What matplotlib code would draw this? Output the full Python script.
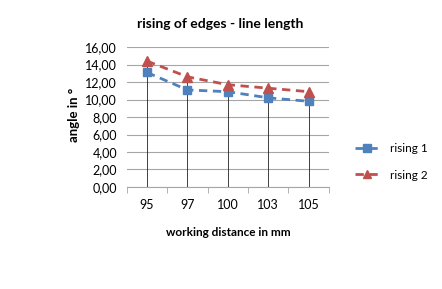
import matplotlib
matplotlib.use("Agg")
import matplotlib.pyplot as plt
import numpy as np

categories = ["95", "97", "100", "103", "105"]
rising1 = [13.1, 11.1, 10.9, 10.2, 9.8]
rising2 = [14.4, 12.6, 11.7, 11.3, 10.9]
yticks = [0, 2, 4, 6, 8, 10, 12, 14, 16]

plt.rcParams['font.family'] = ['Lato', 'DejaVu Sans']
fig = plt.figure(figsize=(4.42, 2.89), dpi=100)
ax = fig.add_axes([0.287, 0.353, 0.457, 0.484])
x = np.arange(len(categories))

for yv in yticks:
    ax.axhline(yv, color='#a6a6a6', lw=0.8, zorder=0)

tops = [max(a, b) for a, b in zip(rising1, rising2)]
ax.vlines(x, 0, tops, color='#202020', lw=0.6, zorder=1)

ax.plot(x, rising1, ls=(0, (3, 2)), color='#4f81bd', lw=2, marker='s', ms=6,
        label='rising 1', zorder=3)
ax.plot(x, rising2, ls=(0, (3, 2)), color='#c0504d', lw=2, marker='^', ms=6.5,
        label='rising 2', zorder=3)

ax.set_xlim(-0.5, len(categories) - 0.5)
ax.set_ylim(0, 16)
ax.set_yticks(yticks)
ax.set_yticklabels([f"{v:.2f}".replace('.', ',') for v in yticks], fontsize=9)
ax.set_xticks(x)
ax.set_xticklabels(categories, fontsize=9)
ax.set_xticks(np.arange(len(categories) + 1) - 0.5, minor=True)
ax.tick_params(axis='x', which='major', length=0, pad=9)
ax.tick_params(axis='x', which='minor', length=4, color='#a6a6a6')
ax.tick_params(axis='y', length=0, pad=7)
for s in ['top', 'right', 'left']:
    ax.spines[s].set_visible(False)
ax.spines['bottom'].set_color('#a6a6a6')

fig.text(220 / 442, 1 - 24 / 289, "rising of edges - line length", fontsize=10,
         fontweight='bold', ha='center', va='center')
fig.text(74 / 442, 1 - 115 / 289, "angle in °", fontsize=9.5, fontweight='bold',
         rotation=90, ha='center', va='center')
fig.text(228 / 442, 1 - 233 / 289, "working distance in mm", fontsize=8.5,
         fontweight='bold', ha='center', va='center')

fig.legend(loc='center left', bbox_to_anchor=(0.78, 0.44), frameon=False,
           fontsize=8.5, handlelength=2.0, labelspacing=1.3, handletextpad=0.9,
           markerscale=0.9)
fig.savefig("out.png", dpi=100)
